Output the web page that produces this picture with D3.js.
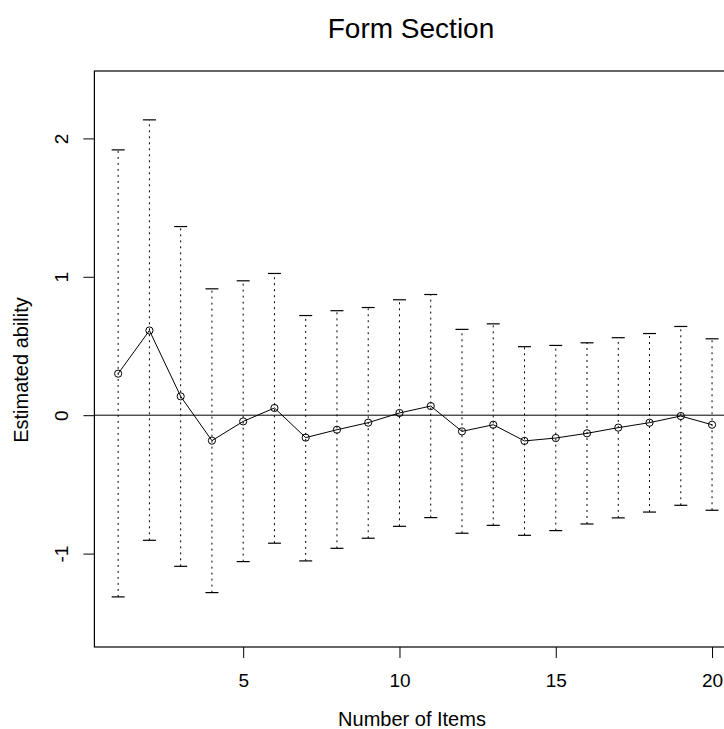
<!DOCTYPE html>
<html>
<head>
<meta charset="utf-8">
<script src="https://cdn.jsdelivr.net/npm/d3@7"></script>
<style>
  html, body { margin: 0; padding: 0; background: #fff; }
  svg { display: block; font-family: "Liberation Sans", Arial, Helvetica, sans-serif; }
</style>
</head>
<body>
<svg id="chart" width="724" height="729"></svg>
<script>
/* Form Section: estimated ability by number of items, with interval bars */

const items    = d3.range(1, 21);
const estimate = [0.30, 0.612, 0.136, -0.184, -0.045, 0.052, -0.162, -0.105, -0.054, 0.016,
                  0.066, -0.117, -0.069, -0.186, -0.165, -0.131, -0.090, -0.054, -0.006, -0.069];
const upper    = [1.917, 2.134, 1.363, 0.913, 0.971, 1.024, 0.720, 0.755, 0.778, 0.834,
                  0.872, 0.620, 0.660, 0.495, 0.504, 0.523, 0.560, 0.590, 0.641, 0.552];
const lower    = [-1.313, -0.904, -1.092, -1.282, -1.058, -0.925, -1.053, -0.962, -0.889, -0.803,
                  -0.740, -0.853, -0.796, -0.868, -0.834, -0.786, -0.742, -0.700, -0.651, -0.687];
const xTicks   = [5, 10, 15, 20];
const yTicks   = [-1, 0, 1, 2];

const rows = items.map((n, i) => ({ n, est: estimate[i], hi: upper[i], lo: lower[i] }));

// plot region (right side runs past the window, as in the reference)
const box = { left: 94.4, right: 735.8, top: 71, bottom: 647 };

const x = d3.scaleLinear().domain([0.24, 20.76]).range([box.left, box.right]);
const y = d3.scaleLinear().domain([-1.675, 2.487]).range([box.bottom, box.top]);

const svg = d3.select("#chart");

// title
svg.append("text")
  .attr("x", 411).attr("y", 38)
  .attr("text-anchor", "middle")
  .attr("font-size", 28)
  .text("Form Section");

// frame
svg.append("rect")
  .attr("x", box.left).attr("y", box.top)
  .attr("width", box.right - box.left).attr("height", box.bottom - box.top)
  .attr("fill", "none").attr("stroke", "#000").attr("stroke-width", 1.2);

// x axis
const gx = svg.append("g")
  .attr("transform", `translate(0,${box.bottom})`)
  .call(d3.axisBottom(x).tickValues(xTicks).tickSize(11).tickPadding(0));
gx.select(".domain").remove();
gx.selectAll("line").attr("stroke", "#000");
gx.selectAll("text")
  .attr("y", 40).attr("dy", 0)
  .attr("font-size", 19).attr("fill", "#000");

// y axis, labels turned like base R (plain hyphen for negatives)
const gy = svg.append("g")
  .attr("transform", `translate(${box.left},0)`)
  .call(d3.axisLeft(y).tickValues(yTicks).tickSize(11).tickFormat(d => String(d)));
gy.select(".domain").remove();
gy.selectAll("line").attr("stroke", "#000");
gy.selectAll("text")
  .attr("x", null).attr("dy", null)
  .attr("text-anchor", "middle")
  .attr("transform", "translate(-26,0) rotate(-90)")
  .attr("font-size", 19).attr("fill", "#000");

// axis titles
svg.append("text")
  .attr("x", 412).attr("y", 726)
  .attr("text-anchor", "middle")
  .attr("font-size", 20)
  .text("Number of Items");

svg.append("text")
  .attr("transform", "translate(28,370) rotate(-90)")
  .attr("text-anchor", "middle")
  .attr("font-size", 20)
  .text("Estimated ability");

const plot = svg.append("g");

// reference line at zero
plot.append("line")
  .attr("x1", box.left).attr("x2", box.right)
  .attr("y1", y(0)).attr("y2", y(0))
  .attr("stroke", "#000").attr("stroke-width", 1);

// dotted interval bars + caps
plot.selectAll("line.bar")
  .data(rows)
  .join("line")
  .attr("class", "bar")
  .attr("x1", d => x(d.n)).attr("x2", d => x(d.n))
  .attr("y1", d => y(d.lo)).attr("y2", d => y(d.hi))
  .attr("stroke", "#000").attr("stroke-width", 1)
  .attr("stroke-dasharray", "2,4");

const capW = 6.5;
for (const key of ["lo", "hi"]) {
  plot.selectAll(`line.cap-${key}`)
    .data(rows)
    .join("line")
    .attr("class", `cap-${key}`)
    .attr("x1", d => x(d.n) - capW).attr("x2", d => x(d.n) + capW)
    .attr("y1", d => y(d[key])).attr("y2", d => y(d[key]))
    .attr("stroke", "#000").attr("stroke-width", 1.2);
}

// estimate line with open points
const line = d3.line().x(d => x(d.n)).y(d => y(d.est));
plot.append("path")
  .datum(rows)
  .attr("d", line)
  .attr("fill", "none").attr("stroke", "#000").attr("stroke-width", 1);

plot.selectAll("circle")
  .data(rows)
  .join("circle")
  .attr("cx", d => x(d.n)).attr("cy", d => y(d.est))
  .attr("r", 3.6)
  .attr("fill", "none").attr("stroke", "#000").attr("stroke-width", 1);
</script>
</body>
</html>
